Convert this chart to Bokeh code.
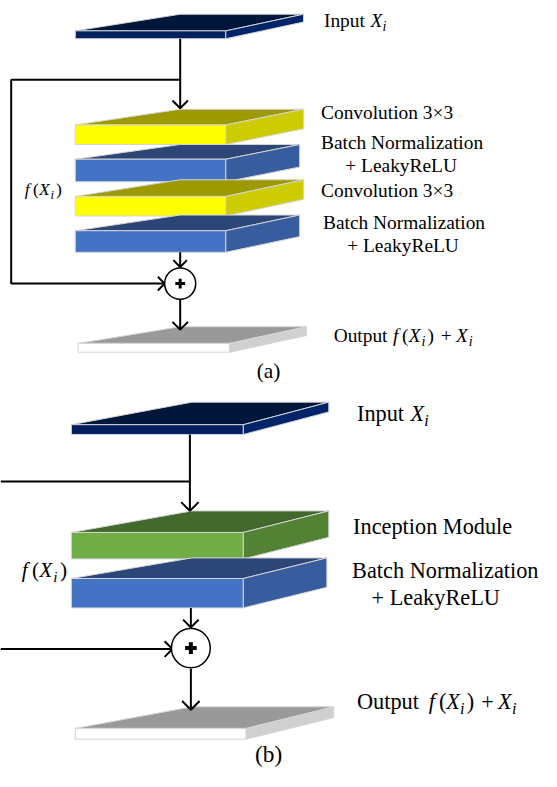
from bokeh.plotting import figure
from bokeh.core.properties import value
from bokeh.embed import file_html
from bokeh.resources import INLINE

# ---------------- content (labels) ----------------
a_layer_kinds = ["input", "conv", "bn", "conv", "bn", "output"]
a_layer_labels = [["Input "], ["Convolution 3×3"], ["Batch Normalization", "+ LeakyReLU"],
                  ["Convolution 3×3"], ["Batch Normalization", "+ LeakyReLU"], ["Output "]]
b_layer_kinds = ["input", "inception", "bn", "output"]
b_layer_labels = [["Input "], ["Inception Module"], ["Batch Normalization", "+ LeakyReLU"], ["Output "]]
panel_captions = ["(a)", "(b)"]

COLORS = {
    "input": ("#00163a", "#002060", "#00246a"),
    "conv": ("#9c9a00", "#ffff00", "#cccc00"),
    "bn": ("#2c4678", "#4472c4", "#385d9e"),
    "inception": ("#43682b", "#70ad47", "#548235"),
    "output": ("#999999", "#ffffff", "#d0d0d0"),
}

# ---------------- layout (reference pixel space) ----------------
W, H = 541, 771
RW, RH = 557, 787
SX = W / RW
FONT = value("Liberation Serif")

# slab geometry: front x0, x1, front top, front bottom, back y, back x0, back x1
a_geom = [
    (77, 232, 31, 39, 14, 185, 312),
    (77, 232, 127, 147, 111, 185, 312),
    (77, 232, 162, 185, 147, 185, 308),
    (77, 232, 200, 220, 183, 185, 312),
    (77, 232, 235, 257, 219, 185, 308),
    (80, 236, 350, 359, 333, 185, 315),
]
b_geom = [
    (73, 250, 433, 443, 410, 197, 338),
    (73, 250, 543, 570, 521, 197, 338),
    (73, 250, 590, 620, 569, 197, 336),
    (77, 253, 743, 754, 721, 197, 343),
]

p = figure(width=W, height=H, x_range=(0, RW), y_range=(RH, 0),
           x_axis_type=None, y_axis_type=None,
           output_backend="svg", toolbar_location=None, min_border=0)
p.grid.visible = False
p.outline_line_color = None
p.background_fill_color = "white"
p.border_fill_color = "white"


def slab(g, kind):
    x0, x1, ft, fb, by, bx0, bx1 = g
    top, front, side = COLORS[kind]
    th = fb - ft
    xs = [[x0, bx0, bx1, x1], [x0, x1, x1, x0], [x1, bx1, bx1, x1]]
    ys = [[ft, by, by, ft], [ft, ft, fb, fb], [ft, by, by + th, fb]]
    p.patches(xs, ys, fill_color=[top, front, side], line_color="#d4d4d4", line_width=1)


for g, k in zip(a_geom, a_layer_kinds):
    slab(g, k)
for g, k in zip(b_geom, b_layer_kinds):
    slab(g, k)

# connector lines
a_lines_x = [[185, 185], [185, 11, 11, 169], [185, 185], [185, 185]]
a_lines_y = [[39, 110], [81, 81, 289, 289], [257, 272], [305, 336]]
b_lines_x = [[195, 195], [0, 195], [0, 177], [196, 196], [196, 196]]
b_lines_y = [[443, 521], [491, 491], [662, 662], [620, 640], [682, 724]]
p.multi_line(a_lines_x + b_lines_x, a_lines_y + b_lines_y, line_color="black", line_width=2)

# arrow heads: (tip x, tip y, direction, half-width, length)
heads = [(185, 110, "d", 8, 8), (169, 289, "r", 7, 7), (185, 272, "d", 7, 7), (185, 336, "d", 8, 8),
         (195, 521, "d", 9, 9), (177, 662, "r", 8, 8), (196, 640, "d", 8, 8), (196, 724, "d", 9, 9)]
hx, hy = [], []
for tx, ty, d, hw, ln in heads:
    if d == "d":
        hx.append([tx - hw, tx, tx + hw]); hy.append([ty - ln, ty, ty - ln])
    else:
        hx.append([tx - ln, tx, tx - ln]); hy.append([ty - hw, ty, ty + hw])
p.multi_line(hx, hy, line_color="black", line_width=2)

# sum nodes
for cx, cy, r, s, lw in [(185, 289, 16, 5, 3), (196, 661, 20, 6, 4)]:
    p.ellipse(x=[cx], y=[cy], width=2 * r, height=2 * r, fill_color="white",
              line_color="black", line_width=1.5)
    p.multi_line([[cx - s, cx + s], [cx, cx]], [[cy, cy], [cy - s, cy + s]],
                 line_color="black", line_width=lw)


def txt(x, y, s, size, style="normal", align="left"):
    # y is the reference baseline; draw with a middle baseline
    p.text(x=[x], y=[y - 0.34 * size], text=[s], text_font=FONT,
           text_font_size=f"{size * SX:.1f}px",
           text_font_style=style, text_baseline="middle", text_align=align, text_color="black")


# math pieces: (char, offset em, sub?)
MATH_X = [("X", 0.0, False), ("i", 0.62, True)]
MATH_F = [("f", 0.0, False), ("(", 0.45, False), ("X", 0.78, False), ("i", 1.40, True), (")", 1.70, False)]
MATH_FX = MATH_F + [("+", 2.35, False), ("X", 3.1, False), ("i", 3.72, True)]


def math(x, y, size, parts, squeeze=1.0):
    for ch, off, sub in parts:
        st = "normal" if ch in "()+" else "italic"
        if sub:
            txt(x + off * size * squeeze, y + 0.22 * size, ch, size * 0.72, st)
        else:
            txt(x + off * size * squeeze, y, ch, size, st)


# panel (a) texts
sa = 20
a_text_pos = [[(333, 27)], [(330, 121)], [(330, 152), (355, 175)], [(330, 201)],
              [(332, 233), (357, 257)], [(343, 349)]]
for labels, poss in zip(a_layer_labels, a_text_pos):
    for s, (x, y) in zip(labels, poss):
        txt(x, y, s, sa)
math(381, 27, sa, MATH_X)
math(404, 349, sa, MATH_FX, 1.05)
math(25, 199, 18, MATH_F, 1.05)
txt(276, 386, panel_captions[0], 22, align="center")

# panel (b) texts
sb = 23
b_text_pos = [[(367, 429)], [(363, 545)], [(362, 590), (382, 617)], [(367, 723)]]
for labels, poss in zip(b_layer_labels, b_text_pos):
    for s, (x, y) in zip(labels, poss):
        txt(x, y, s, sb)
math(422, 429, sb, MATH_X)
math(441, 723, sb, MATH_FX)
math(22, 589, 22, MATH_F, 1.05)
txt(276, 777, panel_captions[1], 24, align="center")

open("out.html", "w").write(file_html(p, INLINE))
